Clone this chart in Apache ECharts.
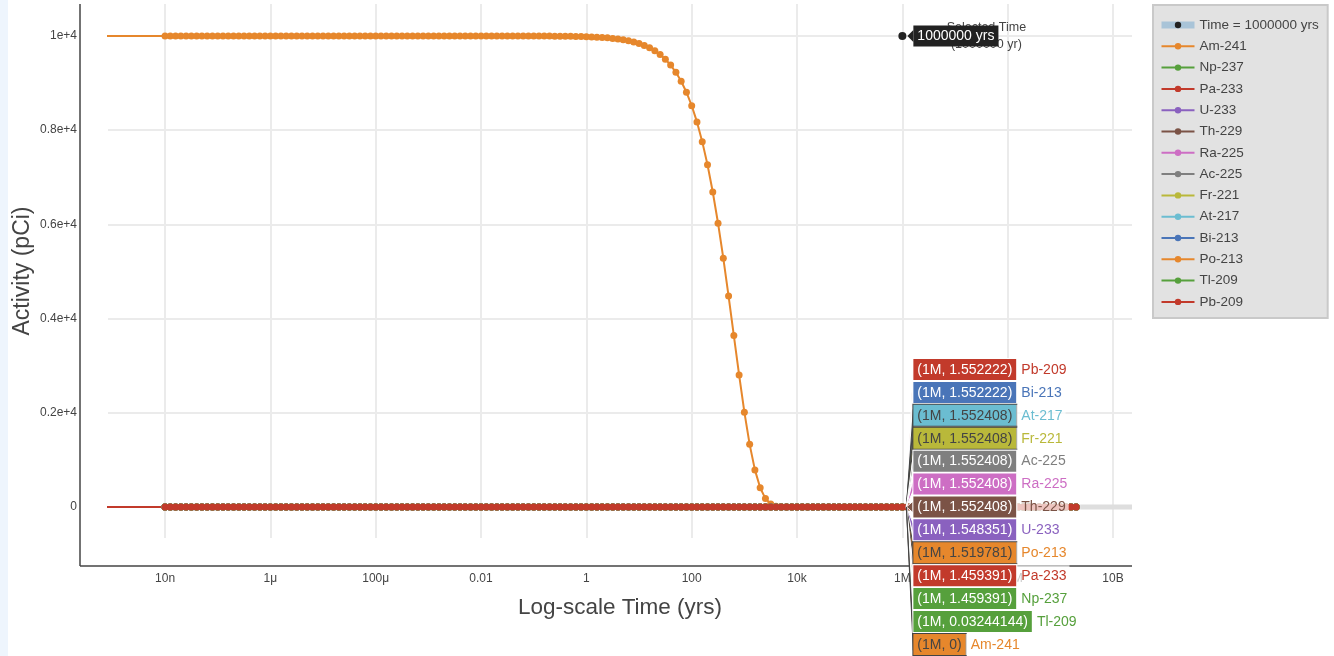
<!DOCTYPE html>
<html><head><meta charset="utf-8">
<script src="https://cdn.jsdelivr.net/npm/echarts@6/dist/echarts.min.js"></script>
<style>html,body{margin:0;padding:0;background:#fff;}#c{width:1334px;height:656px;}#strip{position:absolute;left:0;top:0;width:8px;height:656px;background:#eef5fd;}</style>
</head><body><div id="c"></div><div id="strip"></div>
<script>
// time grid, log10(years)
const timeExp = [-10,
-8,-7.9,-7.8,-7.7,-7.6,-7.5,-7.4,-7.3,-7.2,-7.1,
-7,-6.9,-6.8,-6.7,-6.6,-6.5,-6.4,-6.3,-6.2,-6.1,
-6,-5.9,-5.8,-5.7,-5.6,-5.5,-5.4,-5.3,-5.2,-5.1,
-5,-4.9,-4.8,-4.7,-4.6,-4.5,-4.4,-4.3,-4.2,-4.1,
-4,-3.9,-3.8,-3.7,-3.6,-3.5,-3.4,-3.3,-3.2,-3.1,
-3,-2.9,-2.8,-2.7,-2.6,-2.5,-2.4,-2.3,-2.2,-2.1,
-2,-1.9,-1.8,-1.7,-1.6,-1.5,-1.4,-1.3,-1.2,-1.1,
-1,-0.9,-0.8,-0.7,-0.6,-0.5,-0.4,-0.3,-0.2,-0.1,
0,0.1,0.2,0.3,0.4,0.5,0.6,0.7,0.8,0.9,
1,1.1,1.2,1.3,1.4,1.5,1.6,1.7,1.8,1.9,
2,2.1,2.2,2.3,2.4,2.5,2.6,2.7,2.8,2.9,
3,3.1,3.2,3.3,3.4,3.5,3.6,3.7,3.8,3.9,
4,4.1,4.2,4.3,4.4,4.5,4.6,4.7,4.8,4.9,
5,5.1,5.2,5.3,5.4,5.5,5.6,5.7,5.8,5.9,
6,6.1,6.2,6.3,6.4,6.5,6.6,6.7,6.8,6.9,
7,7.1,7.2,7.3,7.4,7.5,7.6,7.7,7.8,7.9,
8,8.1,8.2,8.3,8.4,8.5,8.6,8.7,8.8,8.9,
9,9.1,9.2,9.3];

const am241 = [10000,
10000,10000,10000,10000,10000,10000,10000,10000,10000,10000,
10000,10000,10000,10000,10000,10000,10000,10000,10000,10000,
10000,10000,10000,10000,10000,10000,10000,10000,10000,10000,
10000,10000,10000,10000,10000,10000,10000,10000,10000,10000,
10000,10000,10000,10000,10000,10000,10000,10000,10000,10000,
10000,10000,10000,10000,10000,10000,10000,10000,10000,10000,
10000,10000,10000,10000,10000,10000,10000,10000,10000,10000,
9998,9998,9998,9997,9996,9995,9994,9992,9990,9987,
9984,9980,9975,9968,9960,9949,9936,9920,9900,9874,
9841,9800,9749,9685,9606,9506,9382,9228,9040,8806,
8519,8176,7757,7266,6688,6025,5283,4478,3639,2803,
2014,1330,788,409,179,63,17,3,0,0,
0,0,0,0,0,0,0,0,0,0,
0,0,0,0,0,0,0,0,0,0,
0,0,0,0,0,0,0,0,0,0,
0,0,0,0,0,0,0,0,0,0,
0,0,0,0,0,0,0,0,0,0,
0,0,0,0];

// daughters: read as 0 at this scale everywhere (value at 1M comes from the labels)
const daughterRead = [0,
0,0,0,0,0,0,0,0,0,0, 0,0,0,0,0,0,0,0,0,0, 0,0,0,0,0,0,0,0,0,0,
0,0,0,0,0,0,0,0,0,0, 0,0,0,0,0,0,0,0,0,0, 0,0,0,0,0,0,0,0,0,0,
0,0,0,0,0,0,0,0,0,0, 0,0,0,0,0,0,0,0,0,0, 0,0,0,0,0,0,0,0,0,0,
0,0,0,0,0,0,0,0,0,0, 0,0,0,0,0,0,0,0,0,0, 0,0,0,0,0,0,0,0,0,0,
0,0,0,0,0,0,0,0,0,0, 0,0,0,0,0,0,0,0,0,0, 0,0,0,0,0,0,0,0,0,0,
0,0,0,0,0,0,0,0,0,0, 0,0,0,0,0,0,0,0,0,0,
0,0,0,0];

const nuclides = ['Am-241','Np-237','Pa-233','U-233','Th-229','Ra-225','Ac-225','Fr-221','At-217','Bi-213','Po-213','Tl-209','Pb-209'];
const colors = ['#e6872c','#56a03c','#c23a2b','#8a61bf','#7b5346','#cd6ec4','#7f7f7f','#b9b83a','#6bbdd1','#4a75b8','#e6872c','#56a03c','#c23a2b'];
const valueAt1M = [0,1.459391,1.459391,1.548351,1.552408,1.552408,1.552408,1.552408,1.552408,1.552222,1.519781,0.03244144,1.552222];
const labelOrder = ['Pb-209','Bi-213','At-217','Fr-221','Ac-225','Ra-225','Th-229','U-233','Po-213','Pa-233','Np-237','Tl-209','Am-241'];
const darkLabel = ['At-217','Fr-221','Po-213','Am-241'];

const xTickValues = [1e-8,1e-6,1e-4,1e-2,1,1e2,1e4,1e6,1e8,1e10];
const xTickLabels = ['10n','1μ','100μ','0.01','1','100','10k','1M','100M','10B'];
const yTickValues = [0,2000,4000,6000,8000,10000];
const yTickLabels = ['0','0.2e+4','0.4e+4','0.6e+4','0.8e+4','1e+4'];

const selectedTime = [1e6, 10000];
const selectedName = 'Time = 1000000 yrs';
const tailStartExp = 9.3;

const FONT = '"Liberation Sans", Arial, sans-serif';
const G = {left:108, top:4, right:1132, bottom:538};
const AXIS_OFF = 28;

const time = timeExp.map(e => Math.pow(10, e));
const idx1M = timeExp.indexOf(6);

const series = nuclides.map((n, i) => {
  const vals = (i === 0 ? am241 : daughterRead).slice();
  vals[idx1M] = valueAt1M[i];
  return {
    name: n, type: 'line', data: time.map((t, j) => [t, vals[j]]),
    symbol: 'circle', symbolSize: 7, showAllSymbol: true, clip: true,
    lineStyle: {width: 2, color: colors[i]}, itemStyle: {color: colors[i]},
    emphasis: {disabled: true}, z: 2
  };
});
series.unshift({
  name: selectedName, type: 'line', data: [selectedTime],
  symbol: 'circle', symbolSize: 8, itemStyle: {color: '#222'},
  lineStyle: {color: '#a9c4d8', width: 7}, emphasis: {disabled: true}, z: 5,
  label: {show: true, position: 'right', distance: 80, align: 'center',
    formatter: 'Selected Time\n(' + selectedTime[0] + ' yr)', color: '#444', fontSize: 12.5, lineHeight: 17, fontFamily: FONT}
});

function xLabel(v) {
  const k = xTickValues.findIndex(t => Math.abs(Math.log10(t) - Math.log10(v)) < 1e-6);
  return k >= 0 ? xTickLabels[k] : '';
}
function yLabel(v) {
  const k = yTickValues.indexOf(v);
  return k >= 0 ? yTickLabels[k] : '';
}

const chart = echarts.init(document.getElementById('c'), null, {renderer: 'canvas'});
chart.setOption({
  animation: false,
  backgroundColor: '#fff',
  textStyle: {fontFamily: FONT},
  grid: {left: G.left, top: G.top, right: 1334 - G.right, bottom: 656 - G.bottom},
  xAxis: {
    type: 'log', logBase: 10, min: Math.pow(10, -9.083), max: Math.pow(10, 10.36),
    axisLine: {show: false}, axisTick: {show: false, customValues: xTickValues},
    axisLabel: {customValues: xTickValues, formatter: xLabel, color: '#444', fontSize: 12, margin: 35, fontFamily: FONT},
    splitLine: {show: true, lineStyle: {color: '#ebebeb', width: 2}},
    name: 'Log-scale Time (yrs)', nameLocation: 'middle', nameGap: 58, nameMoveOverlap: false,
    nameTextStyle: {fontSize: 22.5, color: '#444', fontFamily: FONT}
  },
  yAxis: {
    type: 'value', min: -658, max: 10679,
    axisLine: {show: false}, axisTick: {show: false, customValues: yTickValues},
    axisLabel: {customValues: yTickValues, formatter: yLabel, color: '#444', fontSize: 12, margin: 31, fontFamily: FONT},
    splitLine: {show: true, lineStyle: {color: '#ebebeb', width: 2}},
    name: 'Activity (pCi)', nameLocation: 'middle', nameGap: 74, nameMoveOverlap: false,
    nameTextStyle: {fontSize: 23, color: '#444', fontFamily: FONT}
  },
  legend: {
    orient: 'vertical', left: 1153, top: 5, backgroundColor: '#e2e2e2', borderColor: '#c9c9c9', borderWidth: 2,
    padding: [13, 9, 9, 5], itemGap: 7.3, itemWidth: 33, itemHeight: 8, selectedMode: false,
    textStyle: {color: '#444', fontSize: 13.5, fontFamily: FONT},
    data: [{name: selectedName, lineStyle: {width: 7, color: '#a9c4d8'}, itemStyle: {color: '#222'}}].concat(nuclides)
  },
  series: series
});

const px = v => chart.convertToPixel({xAxisIndex: 0, yAxisIndex: 0}, v);
const g = [];
// offset axis lines
g.push({type: 'line', shape: {x1: G.left - AXIS_OFF, y1: G.top, x2: G.left - AXIS_OFF, y2: G.bottom + AXIS_OFF}, style: {stroke: '#444', lineWidth: 1.5}, z: 50});
g.push({type: 'line', shape: {x1: G.left - AXIS_OFF, y1: G.bottom + AXIS_OFF, x2: G.right, y2: G.bottom + AXIS_OFF}, style: {stroke: '#444', lineWidth: 1.5}, z: 50});
// faded tail band
const tp = px([Math.pow(10, tailStartExp), 0]);
g.push({type: 'line', shape: {x1: tp[0] + 4, y1: tp[1], x2: G.right, y2: tp[1]}, style: {stroke: '#dedede', lineWidth: 5}, z: 1});

// hover labels at the selected time
labelOrder.forEach((name, k) => {
  const i = nuclides.indexOf(name);
  const a = px([selectedTime[0], valueAt1M[i]]);
  const cy = a[1] + (k - 6) * 22.9;
  const bx = a[0] + 11;
  const dark = darkLabel.indexOf(name) >= 0;
  const txt = dark ? '#444' : '#fff';
  g.push({type: 'polygon', shape: {points: [[a[0] + 4, a[1]], [bx, cy - 6], [bx, cy + 6]]},
    style: {fill: colors[i], stroke: txt, lineWidth: 1}, z: 60});
  g.push({type: 'text', x: bx, y: cy, z: 61, style: {
    text: '{b|(1M, ' + valueAt1M[i] + ')}{n|' + name + '}',
    verticalAlign: 'middle', font: '14px ' + FONT,
    rich: {
      b: {fill: txt, backgroundColor: colors[i], borderColor: txt, borderWidth: 1, padding: [4, 4, 3, 4], fontSize: 14, fontFamily: FONT},
      n: {fill: colors[i], backgroundColor: 'rgba(255,255,255,0.7)', padding: [4, 3, 3, 5], fontSize: 14, fontFamily: FONT}
    }
  }});
});
// selected time tooltip
const sp = px(selectedTime);
g.push({type: 'polygon', shape: {points: [[sp[0] + 5, sp[1]], [sp[0] + 11, sp[1] - 6], [sp[0] + 11, sp[1] + 6]]}, style: {fill: '#222'}, z: 70});
g.push({type: 'text', x: sp[0] + 11, y: sp[1], z: 71, style: {
  text: selectedTime[0] + ' yrs', fill: '#fff', backgroundColor: '#222', padding: [4, 4, 3, 4],
  font: '14px ' + FONT, verticalAlign: 'middle'}});
chart.setOption({graphic: g});
</script></body></html>
